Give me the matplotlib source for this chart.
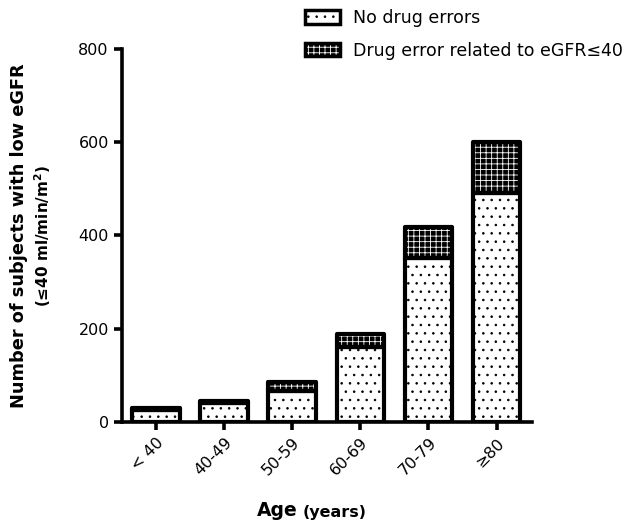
import matplotlib
matplotlib.use("Agg")
import matplotlib.pyplot as plt
from matplotlib.patches import Patch
from matplotlib.legend_handler import HandlerTuple

categories = ["< 40", "40-49", "50-59", "60-69", "70-79", "\u226580"]
no_errors = [25, 40, 66, 160, 352, 492]
drug_errors = [5, 4, 20, 28, 66, 108]
yticks = [0, 200, 400, 600, 800]

plt.rcParams['font.family'] = ['DejaVu Sans']
plt.rcParams['hatch.linewidth'] = 0.6

fig = plt.figure(figsize=(6.24, 5.24), dpi=100)
ax = fig.add_axes([0.1955, 0.1947, 0.6571, 0.7118])

x = list(range(len(categories)))
w = 0.7
ax.bar(x, no_errors, width=w, color='white', edgecolor='black', hatch='..', linewidth=0, zorder=2)
ax.bar(x, drug_errors, bottom=no_errors, width=w, color='black', edgecolor='white', hatch='+++', linewidth=0, zorder=2)
ax.bar(x, no_errors, width=w, fill=False, edgecolor='black', linewidth=3, joinstyle='round', zorder=3)
ax.bar(x, drug_errors, bottom=no_errors, width=w, fill=False, edgecolor='black', linewidth=3, joinstyle='round', zorder=3)

ax.set_xlim(-0.5, 5.52)
ax.set_ylim(0, 800)
ax.set_yticks(yticks)
ax.set_yticklabels([str(v) for v in yticks], fontsize=11.5)
ax.set_xticks(x)
ax.set_xticklabels(categories, rotation=45, ha='right', rotation_mode='anchor', fontsize=11.5)
for s in ['top', 'right']:
    ax.spines[s].set_visible(False)
for s in ['left', 'bottom']:
    ax.spines[s].set_linewidth(2.6)
ax.tick_params(axis='both', width=2.6, length=6, direction='out')

fig.text(0.03, 0.55, "Number of subjects with low eGFR", rotation=90, ha='center', va='center',
         fontsize=12.8, fontweight='bold')
fig.text(0.068, 0.55, "(\u226440 ml/min/m$^\\mathbf{2}$)", rotation=90, ha='center', va='center',
         fontsize=11, fontweight='bold')
fig.text(0.477, 0.025, "Age", ha='right', va='center', fontsize=13.5, fontweight='bold')
fig.text(0.485, 0.022, "(years)", ha='left', va='center', fontsize=11.5, fontweight='bold')

h1 = Patch(facecolor='white', edgecolor='black', hatch='..', linewidth=2.5)
h2a = Patch(facecolor='black', edgecolor='white', hatch='+++', linewidth=0)
h2b = Patch(fill=False, edgecolor='black', linewidth=2.5)
fig.legend([h1, (h2a, h2b)], ["No drug errors", "Drug error related to eGFR\u226440"],
           handler_map={tuple: HandlerTuple(ndivide=1)},
           loc='upper left', bbox_to_anchor=(305 / 624, 1 - 9 / 524), frameon=False, fontsize=12.5,
           borderpad=0, borderaxespad=0,
           handlelength=2.0, handleheight=0.8, labelspacing=0.85, handletextpad=0.75)

fig.savefig("out.png", dpi=100)
